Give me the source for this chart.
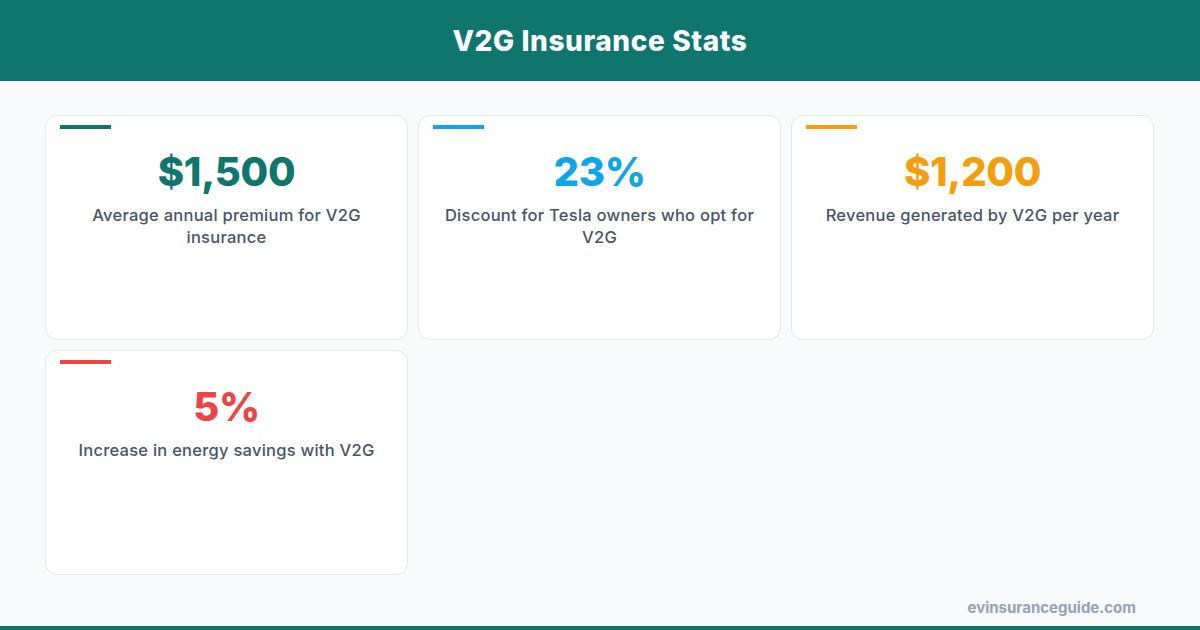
<!DOCTYPE html>
<html>
<head>
<meta charset="utf-8">
<script src="https://cdn.jsdelivr.net/npm/chart.js@4.4.1/dist/chart.umd.min.js"></script>
<style>
  html, body { margin: 0; padding: 0; }
  body {
    width: 1200px; height: 630px; overflow: hidden; position: relative;
    background: #f8fafc; font-family: Inter, "Open Sans", sans-serif;
  }
  .header {
    height: 81px; background: #0f766e; color: #fff;
    display: flex; align-items: center; justify-content: center;
    font-size: 28px; font-weight: 800; letter-spacing: 0.6px;
  }
  .grid {
    position: absolute; left: 45px; top: 115px;
    display: grid; grid-template-columns: repeat(3, 363px);
    grid-auto-rows: 225px; gap: 10px;
  }
  .card {
    position: relative; background: #fff; border: 1px solid #e5e7eb;
    border-radius: 12px; box-sizing: border-box; text-align: center;
    padding: 0 24px;
  }
  .card .accent { position: absolute; left: 14px; top: 9px; width: 51px; height: 4px; }
  .card .value { margin-top: 32px; font-size: 40px; font-weight: 800; line-height: 48px; letter-spacing: -0.3px; }
  .card .label { margin-top: 8px; font-size: 16.5px; font-weight: 500; line-height: 22px; color: #475569; letter-spacing: 0.25px; }
  .footer {
    position: absolute; right: 64px; top: 598px;
    font-size: 15px; font-weight: 700; color: #94a3b8;
  }
  .bottom { position: absolute; left: 0; bottom: 0; width: 1200px; height: 4px; background: #0f766e; }
</style>
</head>
<body>
<div class="header">V2G Insurance Stats</div>
<div class="grid" id="grid"></div>
<div class="footer">evinsuranceguide.com</div>
<div class="bottom"></div>
<script>
const statValues = ["$1,500", "23%", "$1,200", "5%"];
const statLabels = [
  "Average annual premium for V2G insurance",
  "Discount for Tesla owners who opt for V2G",
  "Revenue generated by V2G per year",
  "Increase in energy savings with V2G"
];
const statColors = ["#0f766e", "#0ea5e9", "#f59e0b", "#ef4444"];

Chart.defaults.font.family = "Inter, 'Open Sans', sans-serif";

const grid = document.getElementById("grid");
statValues.forEach((v, i) => {
  const card = document.createElement("div");
  card.className = "card";
  card.innerHTML =
    `<div class="accent" style="background:${statColors[i]}"></div>` +
    `<div class="value" style="color:${statColors[i]}">${v}</div>` +
    `<div class="label">${statLabels[i]}</div>`;
  grid.appendChild(card);
});
</script>
</body>
</html>
